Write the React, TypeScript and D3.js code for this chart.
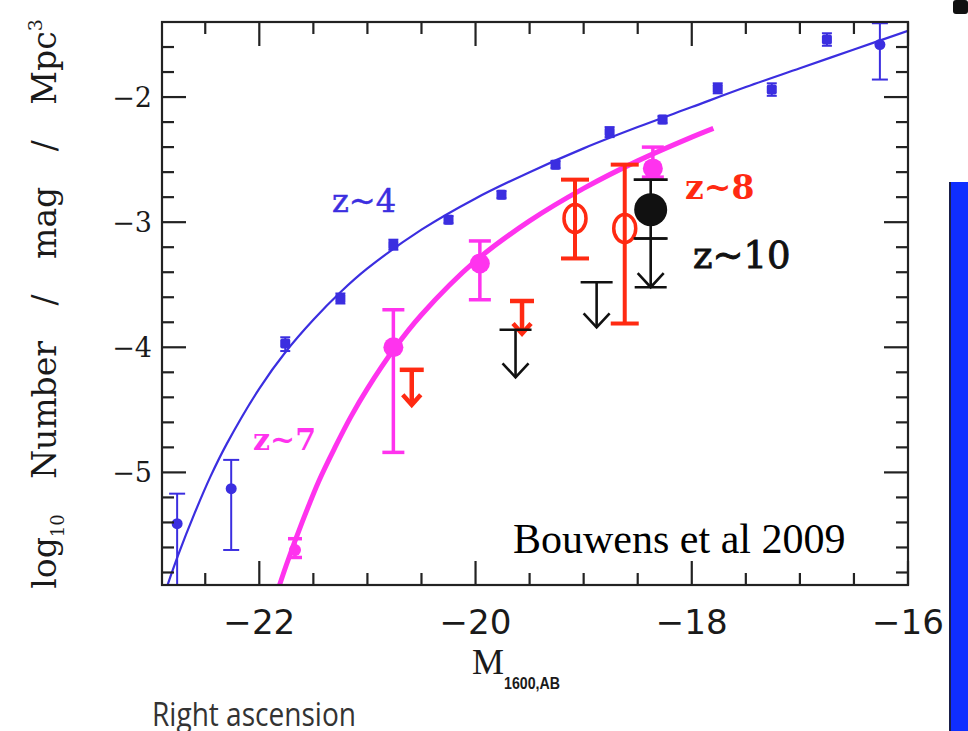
import React from "react";
import * as d3 from "d3";

const W = 968;
const H = 731;
const xDomain = [-22.9, -16];
const yDomain = [-5.9, -1.4];

// x / y tick labels
const xTickValues = [-22, -20, -18, -16];
const xTickLabels = ["\u221222", "\u221220", "\u221218", "\u221216"];
const yTickValues = [-5, -4, -3, -2];
const yTickLabels = ["\u22125", "\u22124", "\u22123", "\u22122"];

// z~4 data (blue)
const z4M = [-22.76, -22.26, -21.76, -21.25, -20.76, -20.25, -19.76, -19.26, -18.76, -18.27, -17.76, -17.26, -16.75, -16.26];
const z4Phi = [-5.41, -5.13, -3.97, -3.61, -3.18, -2.98, -2.78, -2.54, -2.28, -2.18, -1.93, -1.94, -1.54, -1.58];
const z4ErrHi = [0.24, 0.23, 0.05, 0.04, 0.04, 0.03, 0.03, 0.03, 0.04, 0.03, 0.04, 0.05, 0.05, 0.17];
const z4ErrLo = [0.8, 0.49, 0.06, 0.04, 0.04, 0.03, 0.03, 0.03, 0.04, 0.03, 0.04, 0.05, 0.05, 0.28];

// z~4 fit curve (blue)
const z4FitM = [-22.9, -22.75, -22.6, -22.45, -22.3, -22.0, -21.75, -21.5, -21.25, -21.0, -20.5, -20.0, -19.5, -19.0, -18.5, -18.0, -17.5, -17.0, -16.5, -16.0];
const z4FitPhi = [-6.03, -5.66, -5.33, -5.03, -4.77, -4.33, -4.03, -3.78, -3.56, -3.37, -3.06, -2.81, -2.6, -2.41, -2.24, -2.08, -1.92, -1.77, -1.62, -1.47];

// z~7 data (magenta)
const z7M = [-21.67, -20.76, -19.96, -18.36];
const z7Phi = [-5.62, -4.0, -3.33, -2.57];
const z7ErrHi = [0.09, 0.3, 0.18, 0.17];
const z7ErrLo = [0.06, 0.84, 0.29, 0.07];

// z~7 fit curve (magenta)
const z7FitM = [-21.85, -21.75, -21.6, -21.45, -21.3, -21.15, -21.0, -20.75, -20.5, -20.0, -19.5, -19.0, -18.5, -18.0, -17.8];
const z7FitPhi = [-6.0, -5.74, -5.39, -5.07, -4.8, -4.55, -4.33, -4.01, -3.74, -3.31, -2.99, -2.73, -2.51, -2.32, -2.25];

// z~8 data (red)
const z8M = [-19.08, -18.62];
const z8Phi = [-2.97, -3.05];
const z8ErrHi = [0.31, 0.51];
const z8ErrLo = [0.32, 0.76];
const z8LimM = [-20.59, -19.57];
const z8LimPhi = [-4.18, -3.63];
const z8LimLen = [0.28, 0.26];

// z~10 data (black)
const z10M = [-18.38];
const z10Phi = [-2.9];
const z10ErrHi = [0.24];
const z10ErrLo = [0.23];
const z10LimM = [-19.63, -18.88, -18.38];
const z10LimPhi = [-3.86, -3.48, -3.13];
const z10LimLen = [0.38, 0.36, 0.39];

const BLUE = "#3b2ee0";
const MAGENTA = "#ff33ee";
const RED = "#ff2a12";
const BLACK = "#111111";

export default function App() {
  const x = d3.scaleLinear().domain(xDomain).range([162, 908]);
  const y = d3.scaleLinear().domain(yDomain).range([585, 22]);
  const [x0, x1] = x.range();
  const [y0, y1] = y.range();

  const line = d3
    .line<[number, number]>()
    .x((d) => x(d[0]))
    .y((d) => y(d[1]))
    .curve(d3.curveCatmullRom);

  const z4Fit = line(z4FitM.map((m, i) => [m, z4FitPhi[i]]) as [number, number][]) || "";
  const z7Fit = line(z7FitM.map((m, i) => [m, z7FitPhi[i]]) as [number, number][]) || "";

  const xMinor = d3.range(-22.5, -16.01, 0.5).filter((v) => Math.abs(v / 2 - Math.round(v / 2)) > 0.01);
  const yMinor = d3.range(-5.8, -1.41, 0.2).filter((v) => Math.abs(v - Math.round(v)) > 0.01);

  const MAJ = 24;
  const MIN = 12;

  const errBar = (cx: number, hi: number, lo: number, cap: number, color: string, sw: number, key: string) => (
    <g key={key} stroke={color} strokeWidth={sw} fill="none">
      <line x1={cx} x2={cx} y1={y(hi)} y2={y(lo)} />
      <line x1={cx - cap / 2} x2={cx + cap / 2} y1={y(hi)} y2={y(hi)} />
      <line x1={cx - cap / 2} x2={cx + cap / 2} y1={y(lo)} y2={y(lo)} />
    </g>
  );

  const upperLim = (
    m: number,
    top: number,
    len: number,
    cap: number,
    aw: number,
    ah: number,
    color: string,
    sw: number,
    key: string,
    bottomBar = false
  ) => {
    const cx = x(m);
    const yt = y(top);
    const yb = y(top - len);
    return (
      <g key={key} stroke={color} strokeWidth={sw} fill="none" strokeLinejoin="miter">
        <line x1={cx} x2={cx} y1={yt} y2={yb} />
        <line x1={cx - cap / 2} x2={cx + cap / 2} y1={yt} y2={yt} />
        <polyline points={`${cx - aw},${yb - ah} ${cx},${yb} ${cx + aw},${yb - ah}`} />
        {bottomBar && <line x1={cx - cap / 2} x2={cx + cap / 2} y1={yb} y2={yb} />}
      </g>
    );
  };

  return (
    <svg
      width={W}
      height={H}
      viewBox={`0 0 ${W} ${H}`}
      style={{ position: "absolute", left: 0, top: 0, background: "#ffffff" }}
    >
      <defs>
        <clipPath id="plotClip">
          <rect x={x0} y={y1} width={x1 - x0} height={y0 - y1} />
        </clipPath>
        <clipPath id="raClip">
          <rect x={140} y={702} width={260} height={40} />
        </clipPath>
      </defs>
      <rect x={0} y={0} width={W} height={H} fill="#ffffff" />

      {/* right-side slide remnants */}
      <rect x={951} y={182} width={17} height={549} fill="#0f2eff" />
      <line x1={950} x2={950} y1={182} y2={731} stroke="#1a1f4a" strokeWidth={2} />
      <rect x={953} y={0} width={15} height={14} rx={3} fill="#111" />

      {/* data */}
      <g clipPath="url(#plotClip)">
        {/* z~4 fit */}
        <path d={z4Fit} fill="none" stroke={BLUE} strokeWidth={2.2} />
        {z4M.map((m, i) =>
          errBar(x(m), z4Phi[i] + z4ErrHi[i], z4Phi[i] - z4ErrLo[i], i < 2 || i === 13 ? 16 : 10, BLUE, 2, `z4e${i}`)
        )}
        {z4M.map((m, i) =>
          i < 2 || i === 13 ? (
            <circle key={`z4p${i}`} cx={x(m)} cy={y(z4Phi[i])} r={5.5} fill={BLUE} />
          ) : (
            <rect key={`z4p${i}`} x={x(m) - 5} y={y(z4Phi[i]) - 5} width={10} height={10} rx={2} fill={BLUE} />
          )
        )}

        {/* z~7 fit */}
        <path d={z7Fit} fill="none" stroke={MAGENTA} strokeWidth={5} />
        {z7M.map((m, i) =>
          errBar(x(m), z7Phi[i] + z7ErrHi[i], z7Phi[i] - z7ErrLo[i], i === 0 ? 14 : 22, MAGENTA, 3.5, `z7e${i}`)
        )}
        {z7M.map((m, i) => (
          <circle key={`z7p${i}`} cx={x(m)} cy={y(z7Phi[i])} r={i === 0 ? 6 : 10} fill={MAGENTA} />
        ))}

        {/* z~8 */}
        {z8LimM.map((m, i) => upperLim(m, z8LimPhi[i], z8LimLen[i], 24, 9, 10, RED, 4.5, `z8l${i}`))}
        {z8M.map((m, i) =>
          errBar(x(m), z8Phi[i] + z8ErrHi[i], z8Phi[i] - z8ErrLo[i], 28, RED, 4, `z8e${i}`)
        )}
        {z8M.map((m, i) => (
          <ellipse
            key={`z8p${i}`}
            cx={x(m)}
            cy={y(z8Phi[i])}
            rx={11}
            ry={14}
            fill="none"
            stroke={RED}
            strokeWidth={3.5}
          />
        ))}

        {/* z~10 */}
        {z10LimM.map((m, i) =>
          upperLim(m, z10LimPhi[i], z10LimLen[i], 32, 13, 14, BLACK, 2.6, `z10l${i}`, i === 2)
        )}
        {z10M.map((m, i) =>
          errBar(x(m), z10Phi[i] + z10ErrHi[i], z10Phi[i] - z10ErrLo[i], 34, BLACK, 2.6, `z10e${i}`)
        )}
        {z10M.map((m, i) => (
          <circle key={`z10p${i}`} cx={x(m)} cy={y(z10Phi[i])} r={16.5} fill={BLACK} />
        ))}
      </g>

      {/* frame */}
      <rect x={x0} y={y1} width={x1 - x0} height={y0 - y1} fill="none" stroke="#222" strokeWidth={2.2} />

      {/* ticks */}
      <g stroke="#222" strokeWidth={2.2}>
        {xTickValues.map((v) => (
          <g key={`xM${v}`}>
            <line x1={x(v)} x2={x(v)} y1={y0} y2={y0 - MAJ} />
            <line x1={x(v)} x2={x(v)} y1={y1} y2={y1 + MAJ} />
          </g>
        ))}
        {xMinor.map((v) => (
          <g key={`xm${v}`}>
            <line x1={x(v)} x2={x(v)} y1={y0} y2={y0 - MIN} />
            <line x1={x(v)} x2={x(v)} y1={y1} y2={y1 + MIN} />
          </g>
        ))}
        {yTickValues.map((v) => (
          <g key={`yM${v}`}>
            <line x1={x0} x2={x0 + MAJ} y1={y(v)} y2={y(v)} />
            <line x1={x1} x2={x1 - MAJ} y1={y(v)} y2={y(v)} />
          </g>
        ))}
        {yMinor.map((v) => (
          <g key={`ym${v}`}>
            <line x1={x0} x2={x0 + MIN} y1={y(v)} y2={y(v)} />
            <line x1={x1} x2={x1 - MIN} y1={y(v)} y2={y(v)} />
          </g>
        ))}
      </g>

      {/* tick labels */}
      <g fill="#1a1a1a" fontFamily="'Liberation Sans Narrow', 'DejaVu Sans Condensed', 'Liberation Sans', sans-serif" fontSize={34}>
        {xTickValues.map((v, i) => (
          <text key={`xl${v}`} x={x(v)} y={634} textAnchor="middle" textLength={72} lengthAdjust="spacingAndGlyphs">
            {xTickLabels[i]}
          </text>
        ))}
      </g>
      <g fill="#1a1a1a" fontFamily="'DejaVu Serif', serif" fontSize={27}>
        {yTickValues.map((v, i) => (
          <text key={`yl${v}`} x={152} y={y(v) + 10} textAnchor="end">
            {yTickLabels[i]}
          </text>
        ))}
      </g>

      {/* axis titles */}
      <text x={472} y={674} fontFamily="'Liberation Serif', serif" fontSize={36} fill="#1a1a1a">
        M
        <tspan
          fontFamily="'Liberation Sans Narrow', 'Liberation Sans', sans-serif"
          fontSize={17}
          fontWeight="bold"
          dy={15}
          textLength={56}
          lengthAdjust="spacingAndGlyphs"
        >
          1600,AB
        </tspan>
      </text>
      <text
        transform="translate(56,304) rotate(-90)"
        textAnchor="middle"
        fontFamily="'DejaVu Serif', serif"
        fontSize={33}
        fill="#1a1a1a"
        wordSpacing={25}
      >
        log
        <tspan fontSize={18} dy={8}>10</tspan>
        <tspan dy={-8}> Number / mag / Mpc</tspan>
        <tspan fontSize={19} dy={-14}>3</tspan>
      </text>

      {/* series labels */}
      <text x={332} y={212} fontFamily="'DejaVu Serif', serif" fontSize={32} fill={BLUE} stroke={BLUE} strokeWidth={0.5}>
        z~4
      </text>
      <text x={253} y={450} fontFamily="'DejaVu Serif', serif" fontWeight="bold" fontSize={30} fill={MAGENTA}>
        z~7
      </text>
      <text x={685} y={199} fontFamily="'DejaVu Serif', serif" fontWeight="bold" fontSize={33} fill={RED}>
        z~8
      </text>
      <text x={693} y={268} fontFamily="'DejaVu Serif', serif" fontSize={37} fill={BLACK} stroke={BLACK} strokeWidth={0.9}>
        z~10
      </text>

      <text x={513} y={553} fontFamily="'Liberation Serif', 'Times New Roman', serif" fontSize={42} fill="#000">
        Bouwens et al 2009
      </text>

      {/* cropped caption from the slide beneath */}
      <g clipPath="url(#raClip)">
        <text
          x={152}
          y={726}
          fontFamily="'Open Sans', sans-serif"
          fontSize={32}
          fill="#333"
          textLength={204}
          lengthAdjust="spacingAndGlyphs"
        >
          Right ascension
        </text>
      </g>
    </svg>
  );
}
